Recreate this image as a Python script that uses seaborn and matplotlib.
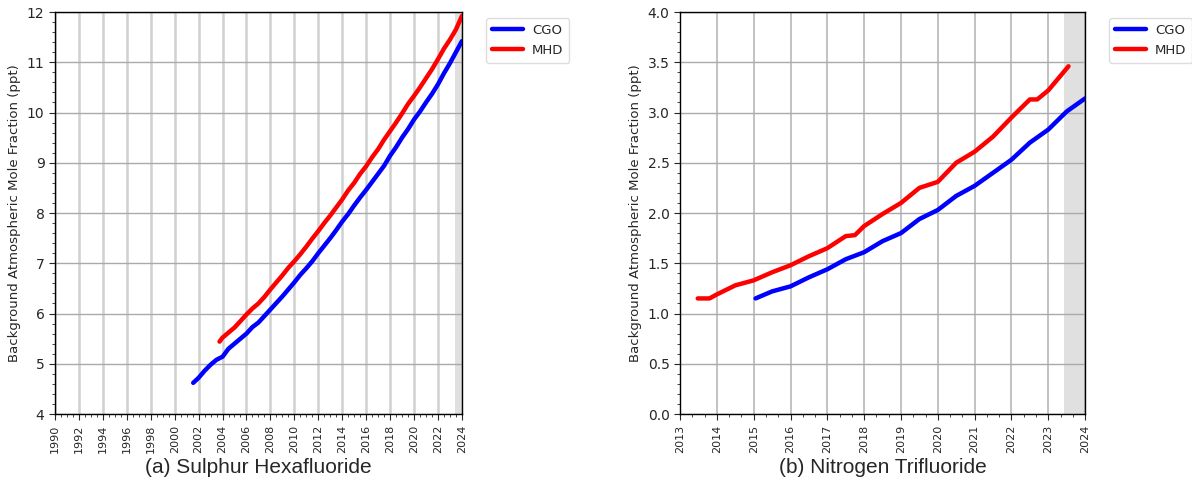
import matplotlib
matplotlib.use("Agg")
import matplotlib.pyplot as plt
import seaborn as sns
import pandas as pd
from matplotlib.ticker import MultipleLocator

# SF6 (ppt)
sf6_cgo_year = [2001.55, 2002.0, 2002.5, 2003.0, 2003.5, 2004.0, 2004.5, 2005.0, 2005.5, 2006.0,
                2006.5, 2007.0, 2007.5, 2008.0, 2008.5, 2009.0, 2009.5, 2010.0, 2010.5, 2011.0,
                2011.5, 2012.0, 2012.5, 2013.0, 2013.5, 2014.0, 2014.5, 2015.0, 2015.5, 2016.0,
                2016.5, 2017.0, 2017.5, 2018.0, 2018.5, 2019.0, 2019.5, 2020.0, 2020.5, 2021.0,
                2021.5, 2022.0, 2022.5, 2023.0, 2023.5, 2024.0]
sf6_cgo = [4.62, 4.72, 4.86, 4.98, 5.08, 5.14, 5.30, 5.40, 5.50, 5.60,
           5.73, 5.82, 5.95, 6.08, 6.21, 6.34, 6.48, 6.62, 6.77, 6.90,
           7.04, 7.20, 7.35, 7.50, 7.66, 7.83, 7.98, 8.15, 8.31, 8.46,
           8.62, 8.78, 8.94, 9.14, 9.31, 9.50, 9.67, 9.86, 10.02, 10.20,
           10.37, 10.56, 10.78, 10.98, 11.20, 11.42]

sf6_mhd_year = [2003.75, 2004.0, 2004.5, 2005.0, 2005.5, 2006.0, 2006.5, 2007.0, 2007.5, 2008.0,
                2008.5, 2009.0, 2009.5, 2010.0, 2010.5, 2011.0, 2011.5, 2012.0, 2012.5, 2013.0,
                2013.5, 2014.0, 2014.5, 2015.0, 2015.5, 2016.0, 2016.5, 2017.0, 2017.5, 2018.0,
                2018.5, 2019.0, 2019.5, 2020.0, 2020.5, 2021.0, 2021.5, 2022.0, 2022.5, 2023.0,
                2023.5, 2024.0]
sf6_mhd = [5.44, 5.52, 5.62, 5.72, 5.85, 5.98, 6.10, 6.20, 6.33, 6.48,
           6.62, 6.76, 6.91, 7.04, 7.18, 7.33, 7.49, 7.64, 7.80, 7.95,
           8.11, 8.27, 8.45, 8.60, 8.78, 8.93, 9.11, 9.27, 9.46, 9.63,
           9.80, 9.98, 10.17, 10.33, 10.50, 10.68, 10.86, 11.06, 11.27, 11.45,
           11.65, 11.92]

# NF3 (ppt)
nf3_cgo_year = [2015.05, 2015.5, 2016.0, 2016.5, 2017.0, 2017.5, 2018.0, 2018.5, 2019.0, 2019.5,
                2020.0, 2020.5, 2021.0, 2021.5, 2022.0, 2022.5, 2023.0, 2023.5, 2024.0]
nf3_cgo = [1.15, 1.22, 1.27, 1.36, 1.44, 1.54, 1.61, 1.72, 1.80, 1.94,
           2.03, 2.17, 2.27, 2.40, 2.53, 2.70, 2.83, 3.01, 3.14]

nf3_mhd_year = [2013.48, 2013.8, 2014.0, 2014.5, 2015.0, 2015.5, 2016.0, 2016.5, 2017.0, 2017.5,
                2017.75, 2018.0, 2018.5, 2019.0, 2019.5, 2020.0, 2020.5, 2021.0, 2021.5, 2022.0,
                2022.5, 2022.7, 2023.0, 2023.55]
nf3_mhd = [1.15, 1.15, 1.19, 1.28, 1.33, 1.41, 1.48, 1.57, 1.65, 1.77,
           1.78, 1.87, 1.99, 2.10, 2.25, 2.31, 2.50, 2.61, 2.76, 2.95,
           3.13, 3.13, 3.22, 3.46]

station_colors = {"CGO": "blue", "MHD": "red"}


def to_df(cgo_x, cgo_y, mhd_x, mhd_y):
    a = pd.DataFrame({"year": cgo_x, "value": cgo_y, "station": "CGO"})
    b = pd.DataFrame({"year": mhd_x, "value": mhd_y, "station": "MHD"})
    return pd.concat([a, b], ignore_index=True)


sns.set_style("white")
plt.rcParams["font.family"] = ["DejaVu Sans"]

fig = plt.figure(figsize=(11.92, 4.84), dpi=100)
ax1 = fig.add_axes([0.0461, 0.1446, 0.3414, 0.8306])
ax2 = fig.add_axes([0.5705, 0.1446, 0.3398, 0.8306])

panels = [
    (ax1, to_df(sf6_cgo_year, sf6_cgo, sf6_mhd_year, sf6_mhd), (1990, 2024), (4, 12),
     2, 0.5, 1, 0.2, "(a) Sulphur Hexafluoride", "%d", "#d0d0d0", 1.8),
    (ax2, to_df(nf3_cgo_year, nf3_cgo, nf3_mhd_year, nf3_mhd), (2013, 2024), (0, 4),
     1, 1 / 3, 0.5, 0.1, "(b) Nitrogen Trifluoride", "%.1f", "#b8b8b8", 1.2),
]

for ax, df, xlim, ylim, xmaj, xmin, ymaj, ymin, title, yfmt, vgrid_c, vgrid_lw in panels:
    ax.axvspan(2023.42, 2024, color="#e0e0e0", zorder=0, lw=0)
    sns.lineplot(data=df, x="year", y="value", hue="station", palette=station_colors,
                 lw=3.2, ax=ax, zorder=3)
    ax.set_xlim(*xlim)
    ax.set_ylim(*ylim)
    ax.xaxis.set_major_locator(MultipleLocator(xmaj))
    ax.xaxis.set_minor_locator(MultipleLocator(xmin))
    ax.yaxis.set_major_locator(MultipleLocator(ymaj))
    ax.yaxis.set_minor_locator(MultipleLocator(ymin))
    ax.yaxis.set_major_formatter(matplotlib.ticker.FormatStrFormatter(yfmt))
    ax.xaxis.set_major_formatter(matplotlib.ticker.FormatStrFormatter("%d"))
    ax.grid(axis="x", which="major", color=vgrid_c, lw=vgrid_lw, zorder=1)
    ax.grid(axis="y", which="major", color="#aaaaaa", lw=1.0, zorder=1)
    ax.tick_params(axis="x", which="major", labelsize=8, labelrotation=90, length=4, direction="out", bottom=True)
    ax.tick_params(axis="y", which="major", labelsize=10, length=4, direction="out", left=True)
    ax.tick_params(which="minor", length=2.5, direction="out", bottom=True, left=True)
    for s in ax.spines.values():
        s.set_color("black")
        s.set_linewidth(1.0)
    ax.set_xlabel("")
    ax.set_ylabel("Background Atmospheric Mole Fraction (ppt)", fontsize=9.5)
    ax.legend(loc="upper left", bbox_to_anchor=(1.06, 0.985), borderaxespad=0, fontsize=9.5,
              handlelength=2.3, handletextpad=0.7, borderpad=0.45, labelspacing=0.5,
              framealpha=1, edgecolor="#dddddd", title=None)
    pos = ax.get_position()
    fig.text(pos.x0 + pos.width / 2, 0.035, title, ha="center", va="center",
             fontsize=15, family=["Liberation Sans", "DejaVu Sans"])

fig.savefig("out.png", dpi=100)
